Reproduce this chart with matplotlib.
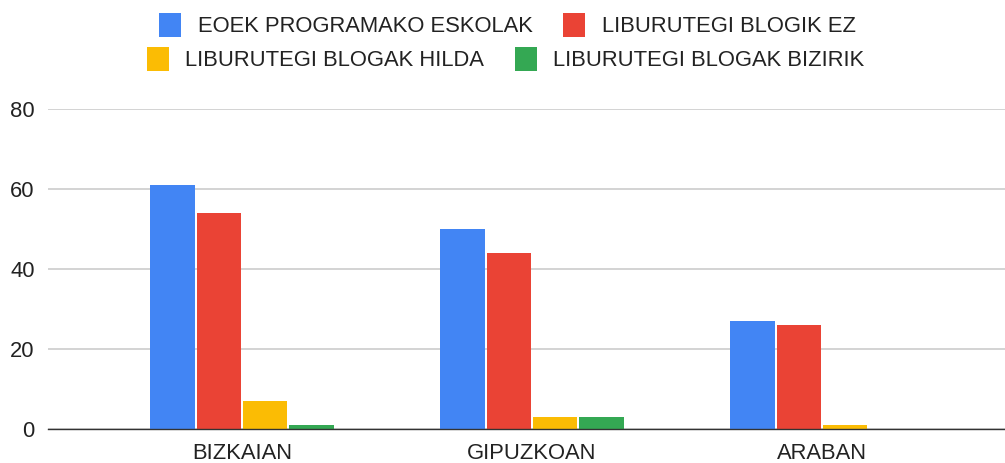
import numpy as np
import matplotlib
matplotlib.use("Agg")
import matplotlib.pyplot as plt

plt.rcParams['font.family'] = ['Liberation Sans', 'DejaVu Sans']

regions = ["BIZKAIAN", "GIPUZKOAN", "ARABAN"]
series_names = ["EOEK PROGRAMAKO ESKOLAK", "LIBURUTEGI BLOGIK EZ",
                "LIBURUTEGI BLOGAK HILDA", "LIBURUTEGI BLOGAK BIZIRIK"]
eoek = [61, 50, 27]
blogik_ez = [54, 44, 26]
blogak_hilda = [7, 3, 1]
blogak_bizirik = [1, 3, 0]
colours = ["#4285F4", "#EA4335", "#FBBC04", "#34A853"]
yticks = [0, 20, 40, 60, 80]

fig = plt.figure(figsize=(10.05, 4.63), dpi=100)
ax = fig.add_axes([48 / 1005, 34 / 463, 1 - 48 / 1005, (429 - 109) / 463])

x = np.arange(len(regions))
step = 0.16
width = 0.153
handles = []
for i, vals in enumerate([eoek, blogik_ez, blogak_hilda, blogak_bizirik]):
    b = ax.bar(x + (i - 1.5) * step, vals, width, color=colours[i],
               label=series_names[i], zorder=3)
    handles.append(b)

ax.set_xlim(-0.669, 2.631)
ax.set_ylim(0, 80)
ax.set_yticks(yticks)
ax.set_xticks(x)
ax.set_xticklabels(regions)
ax.tick_params(axis='both', length=0, labelsize=15.8, colors="#222222")
ax.tick_params(axis='x', pad=10)
ax.tick_params(axis='y', pad=9.5)
ax.yaxis.grid(True, color="#d0d0d0", linewidth=1.3, zorder=0)
for s in ["top", "right", "left"]:
    ax.spines[s].set_visible(False)
ax.spines["bottom"].set_color("#333333")
ax.spines["bottom"].set_linewidth(1.0)
ax.spines["bottom"].set_zorder(4)

leg_kw = dict(ncol=2, frameon=False, fontsize=15.8, handlelength=1.0,
              handleheight=1.35, handletextpad=0.75, columnspacing=1.4,
              labelcolor="#222222", borderaxespad=0, borderpad=0)
leg1 = fig.legend(handles[:2], series_names[:2], loc='center',
                  bbox_to_anchor=(0.505, 1 - 25 / 463), **leg_kw)
leg2 = fig.legend(handles[2:], series_names[2:], loc='center',
                  bbox_to_anchor=(0.503, 1 - 59 / 463), **leg_kw)

fig.savefig("out.png", dpi=100)
